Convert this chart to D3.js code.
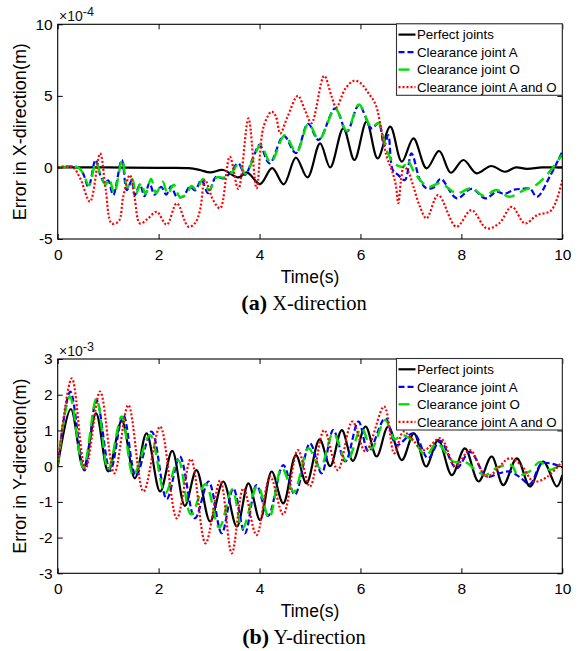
<!DOCTYPE html>
<html><head><meta charset="utf-8">
<script src="https://cdn.jsdelivr.net/npm/d3@7"></script>
<style>
html,body{margin:0;padding:0;background:#fff;}
svg{display:block;}
</style></head>
<body>
<script>
// ---------- DATA ----------
const xTicks = [0, 2, 4, 6, 8, 10];
const topYTicks = [-5, 0, 5, 10];
const botYTicks = [-3, -2, -1, 0, 1, 2, 3];
const seriesNames = ["Perfect joints", "Clearance joint A", "Clearance joint O", "Clearance joint A and O"];

// X-direction error (×10^-4 m), [time s, value]
const xPerfect = [[0,0],[1,0],[2,-0.03],[2.6,-0.05],[2.82,-0.18],[3.02,-0.35],[3.28,-0.18],[3.58,-0.7],[3.75,-0.35],[4.01,-1.16],[4.25,-0.05],[4.48,-1.18],[4.72,0.68],[4.95,-0.7],[5.2,1.68],[5.4,0.0],[5.66,2.73],[5.88,0.52],[6.12,3.2],[6.34,0.63],[6.59,2.85],[6.82,0.4],[7.05,2.03],[7.31,-0.06],[7.56,1.15],[7.79,-0.37],[8.04,0.52],[8.3,-0.41],[8.59,0.1],[8.86,-0.3],[9.08,0.0],[9.3,-0.1],[9.6,0.0],[10,0.0]];
const xJointA = [[0,0],[0.4,0],[0.5,-0.4],[0.61,-1.35],[0.75,0.52],[0.85,-0.6],[0.94,-1.1],[1.0,-0.9],[1.1,-1.93],[1.27,0.52],[1.37,-1.58],[1.47,-0.88],[1.53,-1.93],[1.63,-1.2],[1.72,-2.0],[1.82,-1.1],[1.92,-1.9],[2.05,-1.35],[2.15,-1.9],[2.25,-1.3],[2.35,-2.0],[2.48,-2.05],[2.62,-1.35],[2.72,-1.6],[2.85,-0.88],[2.98,-1.8],[3.14,-0.65],[3.28,-0.77],[3.41,-0.41],[3.58,0.29],[3.71,-0.53],[3.88,0.75],[4.0,1.57],[4.2,0.29],[4.48,2.2],[4.72,1.0],[4.96,3.05],[5.17,1.92],[5.5,4.13],[5.73,2.5],[5.97,4.36],[6.22,2.73],[6.36,3.1],[6.47,1.5],[6.55,2.26],[6.64,-0.18],[6.74,-0.5],[6.88,-0.88],[7.01,0.98],[7.18,-0.88],[7.31,-1.46],[7.45,-1.4],[7.59,-0.8],[7.91,-2.16],[8.2,-1.5],[8.48,-2.16],[8.7,-1.7],[8.85,-1.85],[9.05,-1.55],[9.2,-1.5],[9.36,-1.5],[9.5,-2.05],[9.75,-0.65],[10,1.1]];
const xJointO = [[0,0],[0.4,0],[0.5,-0.4],[0.62,-1.25],[0.76,0.4],[0.86,-0.7],[0.95,-1.2],[1.02,-0.8],[1.12,-1.8],[1.28,0.55],[1.38,-1.4],[1.48,-0.8],[1.55,-1.85],[1.65,-1.1],[1.74,-1.85],[1.85,-0.8],[1.95,-1.8],[2.08,-1.0],[2.18,-1.85],[2.3,-1.2],[2.42,-2.05],[2.55,-1.9],[2.65,-1.3],[2.75,-1.55],[2.88,-0.8],[3.0,-1.6],[3.15,-0.7],[3.3,-0.7],[3.45,-0.35],[3.6,0.3],[3.72,-0.45],[3.9,0.8],[4.02,1.6],[4.22,0.35],[4.5,2.25],[4.73,1.05],[4.97,3.05],[5.18,1.95],[5.5,4.1],[5.73,2.55],[5.97,4.4],[6.22,2.8],[6.36,3.1],[6.5,1.4],[6.6,0.6],[6.7,0.2],[6.85,0.05],[6.93,0.5],[7.08,-0.41],[7.34,-1.35],[7.58,-1.1],[7.91,-1.8],[8.2,-1.45],[8.45,-2.0],[8.69,-1.58],[8.95,-2.05],[9.23,-1.6],[9.45,-1.3],[9.7,-0.5],[10,0.9]];
const xJointAO = [[0,0],[0.3,0],[0.45,-0.8],[0.64,-2.39],[0.84,0.98],[0.95,-1.5],[1.07,-3.91],[1.21,-3.75],[1.3,-2.0],[1.43,-0.53],[1.52,-2.0],[1.63,-3.91],[1.78,-3.6],[1.96,-3.1],[2.16,-4.0],[2.36,-2.51],[2.59,-4.14],[2.72,-3.9],[2.82,-3.0],[2.92,-0.88],[3.08,-2.28],[3.22,-2.86],[3.41,0.75],[3.58,-1.5],[3.78,3.43],[3.94,-1.46],[4.08,2.85],[4.24,3.9],[4.32,3.6],[4.41,2.38],[4.55,3.5],[4.76,5.0],[4.9,4.0],[5.03,3.1],[5.28,6.4],[5.43,4.94],[5.52,4.2],[5.7,5.5],[5.87,6.05],[6.0,5.9],[6.16,5.18],[6.3,4.4],[6.42,2.5],[6.52,0.75],[6.62,-0.18],[6.7,-1.2],[6.75,-2.5],[6.8,-1.0],[6.86,0.05],[6.95,-0.3],[7.05,-1.35],[7.18,-2.75],[7.31,-3.56],[7.54,-1.93],[7.9,-4.14],[8.2,-2.98],[8.5,-4.26],[8.75,-3.9],[9.0,-2.75],[9.26,-3.91],[9.5,-3.33],[9.78,-3.0],[10,-0.88]];

// Y-direction error (×10^-3 m), [time s, value]
const yPerfect = [[0,0],[0.26,1.6],[0.51,-0.06],[0.76,1.48],[1.0,-0.15],[1.27,1.27],[1.53,-0.34],[1.76,0.92],[2.03,-0.71],[2.27,0.43],[2.52,-1.11],[2.75,-0.11],[3.02,-1.55],[3.28,-0.43],[3.55,-1.69],[3.78,-0.48],[4.01,-1.51],[4.24,-0.15],[4.47,-1.04],[4.72,0.31],[4.93,-0.48],[5.19,0.75],[5.4,0.0],[5.63,1.01],[5.85,0.15],[6.1,1.11],[6.32,0.27],[6.55,1.11],[6.82,0.17],[7.06,0.92],[7.3,-0.01],[7.54,0.73],[7.81,-0.25],[8.07,0.5],[8.34,-0.43],[8.6,0.27],[8.83,-0.53],[9.1,0.22],[9.36,-0.57],[9.62,0.13],[9.89,-0.57],[10,-0.25]];
const yJointA = [[0,0],[0.25,2.09],[0.53,-0.12],[0.77,1.85],[1.04,-0.13],[1.3,1.43],[1.55,-0.27],[1.86,0.97],[2.16,-0.92],[2.42,0.27],[2.72,-1.46],[2.99,-0.43],[3.25,-1.88],[3.48,-0.62],[3.71,-1.88],[3.94,-0.53],[4.17,-1.39],[4.47,0.03],[4.7,-0.8],[5.0,0.64],[5.23,-0.2],[5.46,1.01],[5.7,0.13],[5.96,1.25],[6.16,0.41],[6.49,1.34],[6.72,0.59],[7.05,0.92],[7.34,0.22],[7.58,0.71],[7.9,-0.06],[8.17,0.4],[8.5,-0.29],[8.75,-0.2],[8.96,-0.15],[9.15,-0.3],[9.36,-0.5],[9.6,0.08],[10,-0.03]];
const yJointO = [[0,0],[0.24,1.95],[0.51,-0.05],[0.77,1.9],[1.0,-0.1],[1.27,1.39],[1.5,-0.25],[1.83,0.87],[2.13,-0.76],[2.39,0.17],[2.64,-1.35],[2.93,-0.5],[3.2,-1.72],[3.46,-0.65],[3.66,-1.75],[3.96,-0.55],[4.19,-1.45],[4.44,-0.05],[4.68,-0.72],[4.97,0.5],[5.2,-0.05],[5.46,0.92],[5.73,0.13],[6.02,1.06],[6.22,0.5],[6.49,1.29],[6.68,0.75],[6.82,0.87],[7.05,0.7],[7.3,0.3],[7.51,0.64],[7.84,0.13],[8.1,0.1],[8.24,-0.06],[8.47,-0.25],[8.7,-0.05],[8.99,0.03],[9.12,-0.25],[9.35,-0.15],[9.56,0.12],[9.75,-0.1],[10,0.08]];
const yJointAO = [[0,0],[0.28,2.46],[0.55,-0.08],[0.84,2.09],[1.12,-0.2],[1.4,1.71],[1.7,-0.71],[2.03,1.11],[2.36,-1.46],[2.64,0.2],[2.93,-2.16],[3.22,-0.4],[3.45,-2.44],[3.68,-0.62],[3.94,-1.93],[4.21,-0.29],[4.47,-1.35],[4.76,0.45],[5.0,-0.57],[5.28,1.01],[5.55,-0.11],[5.84,1.25],[6.1,0.41],[6.47,1.67],[6.67,0.36],[6.85,0.97],[7.0,0.8],[7.25,0.45],[7.59,0.78],[7.88,0.0],[8.17,0.45],[8.5,-0.29],[8.96,0.22],[9.2,0.0],[9.43,-0.43],[9.7,-0.3],[10,0.13]];

// ---------- STYLE ----------
const styles = [
  {color:"#000000", dash:null, width:2.2},
  {color:"#0000ff", dash:"6,3", width:2.2},
  {color:"#00e000", dash:"11,6", width:2.4},
  {color:"#ff0000", dash:"2,2", width:2.2}
];
const sans = "'Liberation Sans', Arial, sans-serif";
const serif = "'Liberation Serif', 'Times New Roman', serif";
const fmt = d => String(d);

const svg = d3.select("body").append("svg").attr("width",581).attr("height",651);

function panel(cfg){
  const x = d3.scaleLinear().domain([0,10]).range([57.7,562.3]);
  const y = d3.scaleLinear().domain(cfg.yDomain).range([cfg.y1, cfg.y0]);
  const g = svg.append("g");

  const clipId = "clip"+cfg.id;
  svg.append("clipPath").attr("id",clipId).append("rect")
    .attr("x",57.7).attr("y",cfg.y0).attr("width",562.3-57.7).attr("height",cfg.y1-cfg.y0);

  const line = d3.line().x(d=>x(d[0])).y(d=>y(d[1])).curve(d3.curveCatmullRom.alpha(0.5));
  const lg = g.append("g").attr("clip-path",`url(#${clipId})`);
  cfg.series.forEach((s,i)=>{
    lg.append("path").attr("d",line(s)).attr("fill","none")
      .attr("stroke",styles[i].color).attr("stroke-width",styles[i].width)
      .attr("stroke-dasharray",styles[i].dash).attr("stroke-linejoin","round");
  });

  // axes (ticks inside, box)
  const ax = g.append("g");
  const bottom = d3.axisBottom(x).tickValues(xTicks).tickFormat(fmt).tickSizeInner(-5).tickSizeOuter(0).tickPadding(10);
  const top = d3.axisTop(x).tickValues(xTicks).tickSizeInner(-5).tickSizeOuter(0).tickFormat("");
  const left = d3.axisLeft(y).tickValues(cfg.yTicks).tickFormat(fmt).tickSizeInner(-5).tickSizeOuter(0).tickPadding(5);
  const right = d3.axisRight(y).tickValues(cfg.yTicks).tickSizeInner(-5).tickSizeOuter(0).tickFormat("");
  ax.append("g").attr("transform",`translate(0,${cfg.y1})`).call(bottom);
  ax.append("g").attr("transform",`translate(0,${cfg.y0})`).call(top);
  ax.append("g").attr("transform",`translate(57.7,0)`).call(left);
  ax.append("g").attr("transform",`translate(562.3,0)`).call(right);
  ax.selectAll(".domain").remove();
  ax.selectAll("line").attr("stroke","#000").attr("stroke-width",1);
  ax.selectAll("text").attr("font-family",sans).attr("font-size",15.5).attr("fill","#000");
  g.append("rect").attr("x",57.7).attr("y",cfg.y0).attr("width",562.3-57.7).attr("height",cfg.y1-cfg.y0)
    .attr("fill","none").attr("stroke","#000").attr("stroke-width",1.1);

  // exponent
  const ex = g.append("text").attr("x",59).attr("y",cfg.y0-3).attr("font-family",sans).attr("font-size",14).attr("fill","#111");
  ex.append("tspan").text("×10");
  ex.append("tspan").attr("dy",-5).attr("font-size",12.5).text(cfg.exp);

  // axis labels
  g.append("text").attr("transform",`translate(25.5,${(cfg.y0+cfg.y1)/2}) rotate(-90)`)
    .attr("text-anchor","middle").attr("font-family",sans).attr("font-size",18).text(cfg.ylabel);
  g.append("text").attr("x",310).attr("y",cfg.y1+44).attr("text-anchor","middle")
    .attr("font-family",sans).attr("font-size",17.5).text("Time(s)");
  const cap = g.append("text").attr("x",304).attr("y",cfg.y1+71).attr("text-anchor","middle").attr("font-family",serif);
  cap.append("tspan").attr("font-weight","bold").attr("font-size",22).text(cfg.capTag);
  cap.append("tspan").attr("font-size",20.5).text(" "+cfg.capText);

  // legend
  const lgx = 396.5, lgy = cfg.y0 - 0.5, lgw = 562.3-396.5, lgh = 71.5;
  const leg = g.append("g");
  leg.append("rect").attr("x",lgx).attr("y",lgy).attr("width",lgw).attr("height",lgh)
    .attr("fill","#fff").attr("stroke","#333").attr("stroke-width",1.1);
  seriesNames.forEach((n,i)=>{
    const yy = lgy + 10.8 + i*17.5;
    leg.append("line").attr("x1",398.5).attr("x2",415.5).attr("y1",yy).attr("y2",yy)
      .attr("stroke",styles[i].color).attr("stroke-width",styles[i].width).attr("stroke-dasharray",styles[i].dash);
    leg.append("text").attr("x",417).attr("y",yy).attr("dy","0.36em")
      .attr("font-family",sans).attr("font-size",13.3).attr("fill","#000").text(n);
  });
}

panel({id:"a", y0:24.3, y1:239, yDomain:[-5,10], yTicks:topYTicks, exp:"-4",
  ylabel:"Error in X-direction(m)", capTag:"(a)", capText:"X-direction",
  series:[xPerfect,xJointA,xJointO,xJointAO]});
panel({id:"b", y0:359, y1:573.3, yDomain:[-3,3], yTicks:botYTicks, exp:"-3",
  ylabel:"Error in Y-direction(m)", capTag:"(b)", capText:"Y-direction",
  series:[yPerfect,yJointA,yJointO,yJointAO]});
</script>
</body></html>
